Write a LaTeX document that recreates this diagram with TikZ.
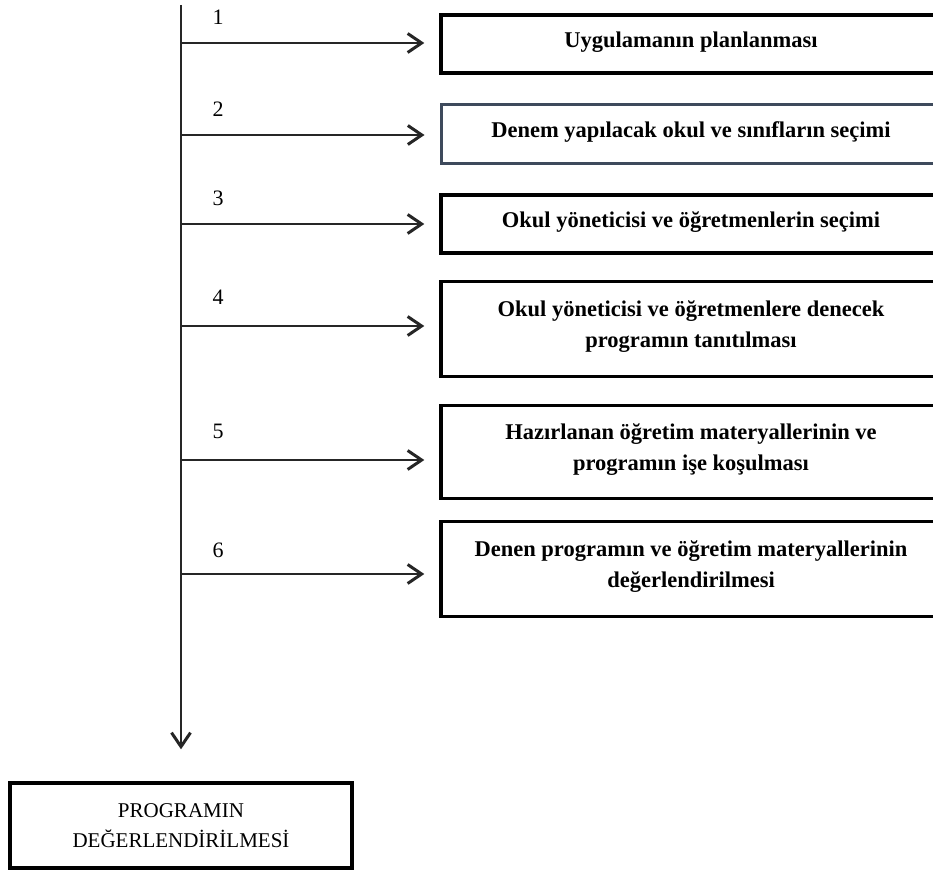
\documentclass[tikz,border=0pt]{standalone}
\usepackage{fontspec}
\setmainfont{Liberation Serif}
\usetikzlibrary{arrows.meta}
\definecolor{slateline}{RGB}{62,74,92}
\tikzset{
  flow/.style={line width=1.7pt, draw=black!85, -{Straight Barb[length=14pt,width=19pt,line width=3pt]}},
  stepbox/.style={draw, line width=3.4pt, minimum width=500pt, align=center,
    font=\bfseries\fontsize{22.5}{31}\selectfont},
  endbox/.style={draw, line width=3.4pt, minimum width=342pt, minimum height=85pt,
    align=center, font=\fontsize{21}{30}\selectfont},
  num/.style={font=\fontsize{22}{24}\selectfont}
}

\begin{document}
\begin{tikzpicture}[x=1pt,y=-1pt]
    \useasboundingbox (0,0) rectangle (933,872);
    \clip (0,0) rectangle (933,872);
    % steps
    \node[stepbox, minimum height=58pt] (b1) at (691,44) {Uygulamanın planlanması\\[-23pt]};
    \node[stepbox, minimum height=58pt, draw=slateline, line width=3pt] (b2) at (691,134) {Denem yapılacak okul ve sınıfların seçimi\\[-23pt]};
    \node[stepbox, minimum height=58pt] (b3) at (691,224) {Okul yöneticisi ve öğretmenlerin seçimi\\[-23pt]};
    \node[stepbox, minimum height=95pt] (b4) at (691,329) {Okul yöneticisi ve öğretmenlere denecek\\programın tanıtılması\\[-21pt]};
    \node[stepbox, minimum height=93pt] (b5) at (691,452) {Hazırlanan öğretim materyallerinin ve\\programın işe koşulması\\[-21pt]};
    \node[stepbox, minimum height=95pt] (b6) at (691,569) {Denen programın ve öğretim materyallerinin\\değerlendirilmesi\\[-21pt]};
    \node[endbox] (prog) at (181,825.5) {PROGRAMIN\\DEĞERLENDİRİLMESİ};
    % spine
    \coordinate (top) at (181,5);
    \draw[flow] (top) -- ([yshift=32pt]prog.north);
    \foreach \i/\y/\ny in {1/43/17, 2/135/109, 3/224/198, 4/326/297, 5/460/431, 6/574/550} {
        \coordinate (c\i) at (181,\y);
        \node[num] (n\i) at (218,\ny) {\i};
        \draw[flow, shorten >=15pt] (c\i) -- (c\i -| b\i.west);
    }
\end{tikzpicture}
\end{document}
